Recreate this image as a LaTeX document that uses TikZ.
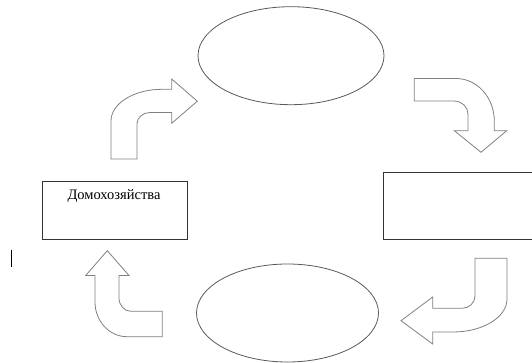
\documentclass[tikz,border=0pt]{standalone}
\usepackage{fontspec}
\setmainfont{Liberation Serif}
\usetikzlibrary{shapes.geometric}
\tikzset{
  bigarrow/.style={draw=black!50, fill=white, line width=0.8pt, line join=miter},
  oval/.style={ellipse, draw=black!65, line width=0.8pt, inner sep=0pt},
  box/.style={rectangle, draw=black!80, line width=0.8pt, inner sep=0pt},
  lbl/.style={font=\fontsize{14.5}{17}\selectfont, inner sep=0pt}
}
\def\k{0.5523}
\begin{document}
\begin{tikzpicture}[x=1pt, y=-1pt]
\useasboundingbox (0,0) rectangle (532,363);
% ovals
\node[oval, minimum width=186pt, minimum height=98pt] (top) at (291,55.7) {};
\node[oval, minimum width=182pt, minimum height=98pt] (bot) at (287.5,313) {};
% boxes
\node[box, minimum width=144.8pt, minimum height=58.3pt] (home) at (114.9,210.1) {};
\node[lbl] (hometxt) at (114,196.5) {Домохозяйства};
\node[box, minimum width=160pt, minimum height=67.3pt] (right) at (463.8,205.6) {};
% cursor mark
\draw[black, line width=1.2pt] (11.8,249.5) coordinate (c1) -- (11.8,267) coordinate (c2);
% top-left arrow
\draw[bigarrow] (111,159) -- (111,121)
  .. controls (111,{121+\k*(89.3-121)}) and ({162+\k*(111-162)},89.3) .. (162,89.3)
  -- (171.7,89.3) -- (171.7,79) -- (197.3,101.2) -- (171.7,123.3) -- (171.7,112.5) -- (150,112.5)
  .. controls ({150+\k*(137-150)},112.5) and (137,{124+\k*(112.5-124)}) .. (137,124)
  -- (137,159) -- cycle;
% top-right arrow
\draw[bigarrow] (414.3,78.5) -- (456,78.5)
  .. controls ({456+\k*(494.3-456)},78.5) and (494.3,{121+\k*(78.5-121)}) .. (494.3,121)
  -- (494.3,130.7) -- (506.7,130.7) -- (481,152.3) -- (454.3,130.7) -- (468,130.7) -- (468,114)
  .. controls (468,{114+\k*(101-114)}) and ({454+\k*(468-454)},101) .. (454,101)
  -- (414.3,101) -- cycle;
% bottom-right arrow
\draw[bigarrow] (475,258.3) -- (507,258.3) -- (507,299)
  .. controls (507,{299+\k*(332-299)}) and ({453+\k*(507-453)},332) .. (453,332)
  -- (432.7,332) -- (432.7,344) -- (401,320.7) -- (432.7,297) -- (432.7,308.3) -- (462,308.3)
  .. controls ({462+\k*(475-462)},308.3) and (475,{296+\k*(308.3-296)}) .. (475,296)
  -- cycle;
% bottom-left arrow
\draw[bigarrow] (107.3,250.7) -- (129,275.5) -- (119,275.5) -- (119,298)
  .. controls (119,{298+\k*(311.3-298)}) and ({131+\k*(119-131)},311.3) .. (131,311.3)
  -- (162.3,311.3) -- (162.3,336.7) -- (127,336.7)
  .. controls ({127+\k*(95-127)},336.7) and (95,{302+\k*(336.7-302)}) .. (95,302)
  -- (95,275.5) -- (85.7,275.5) -- cycle;
\end{tikzpicture}
\end{document}
